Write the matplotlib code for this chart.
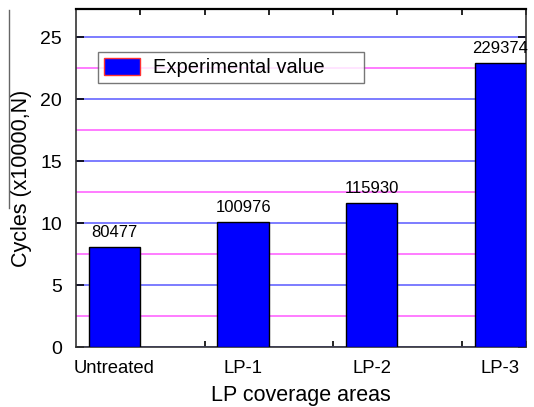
import numpy as np
import matplotlib
matplotlib.use("Agg")
import matplotlib.pyplot as plt
from matplotlib.lines import Line2D

plt.rcParams["font.family"] = ["Liberation Sans", "DejaVu Sans"]

# fatigue life per LP coverage condition
categorias = ["Untreated", "LP-1", "LP-2", "LP-3"]
ciclos = [80477, 100976, 115930, 229374]

x = np.arange(len(categorias))
valores = np.array(ciclos) / 10000.0

fig = plt.figure(figsize=(5.34, 4.07), dpi=100)
ax = fig.add_axes([0.1423, 0.1474, 0.8427, 0.8305])

ax.bar(x, valores, width=0.4, color="#0000ff", edgecolor="black",
       linewidth=1.0, zorder=3, label="Experimental value")

for xi, v, c in zip(x, valores, ciclos):
    ax.text(xi, v + 0.6, str(c), ha="center", va="bottom", fontsize=12)

ax.set_xlim(-0.3, 3.2)
ax.set_ylim(0, 27.3)

# grade azul nos valores principais, magenta nos intermediarios
ax.set_yticks([0, 5, 10, 15, 20, 25])
ax.set_yticks(np.arange(2.5, 25, 5), minor=True)
ax.yaxis.grid(True, which="major", color="#6666ff", linewidth=1.2, zorder=0)
ax.yaxis.grid(True, which="minor", color="#ff66ff", linewidth=1.2, zorder=0)
ax.set_axisbelow(True)

ax.set_xticks(x)
ax.set_xticklabels(categorias)
ax.set_xticks(np.arange(0.2, 3.25, 0.5), minor=True)
ax.tick_params(axis="x", which="major", length=0, pad=9, labelsize=13.3)
ax.tick_params(axis="x", which="minor", direction="in", length=4,
               top=True, bottom=True, width=1.2)
ax.tick_params(axis="y", which="major", direction="in", length=6,
               left=True, right=True, width=1.2, labelsize=14, pad=10)
ax.tick_params(axis="y", which="minor", length=0)

for lado in ["left", "bottom", "right"]:
    ax.spines[lado].set_linewidth(1.2)
    ax.spines[lado].set_color("#333333")
ax.spines["top"].set_linewidth(1.6)

ax.set_xlabel("LP coverage areas", fontsize=15.5, labelpad=6)
ax.set_ylabel("Cycles (x10000,N)", fontsize=15.5, labelpad=6)

leg = ax.legend(loc="upper left", bbox_to_anchor=(0.049, 0.873),
                borderaxespad=0, fontsize=14.5, frameon=True, fancybox=False,
                handlelength=1.8, handleheight=0.95, borderpad=0.28,
                handletextpad=0.65)
leg.get_frame().set_edgecolor("#555555")
leg.get_frame().set_linewidth(1.0)
leg.legend_handles[0].set_edgecolor("#ff3333")
for t in leg.get_texts():
    t.set_text("Experimental value      ")

# traco vertical ao lado do titulo do eixo y
fig.add_artist(Line2D([0.017, 0.017], [0.49, 0.975], color="#666666",
                      linewidth=1.0))

fig.savefig("out.png", dpi=100)
